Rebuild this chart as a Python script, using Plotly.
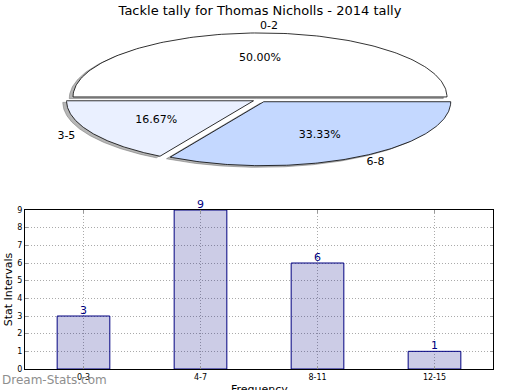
import numpy as np
import plotly.graph_objects as go

# ---- data ----
pie_labels = ["0-2", "3-5", "6-8"]
pie_values = [3, 1, 2]
pie_colors = ["#FFFFFF", "#EAF0FF", "#C4D8FF"]

bar_categories = ["0-3", "4-7", "8-11", "12-15"]
bar_values = [3, 9, 6, 1]

title_text = "Tackle tally for Thomas Nicholls - 2014 tally"
x_title = "Frequency"
y_title = "Stat Intervals"
watermark = "Dream-Stats.com"

W, H = 520, 390
FONT = "DejaVu Sans"

fig = go.Figure()

# ---- pie drawn as polygons on a stretched axis (ellipse) ----
explode = 0.04
total = float(sum(pie_values))
start = 0.0
slices = []
for lab, val, col in zip(pie_labels, pie_values, pie_colors):
    frac = val / total
    a0, a1 = start * 2 * np.pi, (start + frac) * 2 * np.pi
    mid = (a0 + a1) / 2
    cx, cy = explode * np.cos(mid), explode * np.sin(mid)
    t = np.linspace(a0, a1, 160)
    xs = np.concatenate([[cx], cx + np.cos(t), [cx]])
    ys = np.concatenate([[cy], cy + np.sin(t), [cy]])
    slices.append((lab, frac, col, mid, xs, ys))
    start += frac

# shadows
for lab, frac, col, mid, xs, ys in slices:
    fig.add_trace(go.Scatter(x=xs - 0.02, y=ys - 0.025, fill="toself", mode="lines",
                             line=dict(color="rgba(110,110,110,0.5)", width=1),
                             fillcolor="rgba(110,110,110,0.5)", hoverinfo="skip",
                             showlegend=False, xaxis="x2", yaxis="y2"))
for lab, frac, col, mid, xs, ys in slices:
    fig.add_trace(go.Scatter(x=xs, y=ys, fill="toself", mode="lines",
                             line=dict(color="black", width=0.8),
                             fillcolor=col, hoverinfo="skip",
                             showlegend=False, xaxis="x2", yaxis="y2"))
# labels
for lab, frac, col, mid, xs, ys in slices:
    r = 1.1 + explode
    lx, ly = r * np.cos(mid), r * np.sin(mid)
    pos = "middle right" if np.cos(mid) >= 0 else "middle left"
    fig.add_trace(go.Scatter(x=[lx], y=[ly], mode="text", text=[lab], textposition=pos,
                             textfont=dict(family=FONT, size=11, color="black"),
                             hoverinfo="skip", showlegend=False, xaxis="x2", yaxis="y2",
                             cliponaxis=False))
    r2 = 0.6 + explode
    fig.add_trace(go.Scatter(x=[r2 * np.cos(mid)], y=[r2 * np.sin(mid)], mode="text",
                             text=["%.2f%%" % (frac * 100)], textposition="middle center",
                             textfont=dict(family=FONT, size=11, color="black"),
                             hoverinfo="skip", showlegend=False, xaxis="x2", yaxis="y2",
                             cliponaxis=False))

# ---- bar chart ----
fig.add_trace(go.Bar(x=bar_categories, y=bar_values, width=0.45,
                     marker=dict(color="rgba(0,0,128,0.2)",
                                 line=dict(color="#000080", width=1)),
                     showlegend=False, hoverinfo="skip"))

bl, br, bt, bb = 25, 493, 210, 369

annotations = []
for c, v in zip(bar_categories, bar_values):
    annotations.append(dict(x=c, y=v, xref="x", yref="y", text=str(v), showarrow=False,
                            xanchor="center", yanchor="bottom", yshift=-3,
                            font=dict(family=FONT, size=11, color="#000080")))
annotations.append(dict(text=watermark, x=0, y=1 / H, xref="paper", yref="paper",
                        xanchor="left", yanchor="bottom", showarrow=False,
                        font=dict(family=FONT, size=12, color="#8E8E8E")))
annotations.append(dict(text=x_title, x=(bl + br) / 2 / W, y=(H - 381) / H,
                        xref="paper", yref="paper", xanchor="center", yanchor="top",
                        showarrow=False, font=dict(family=FONT, size=11, color="black")))

# pie axis geometry (pixels -> ranges)
pcx, pcy, rx, ry = 260.0, 99.5, 187.0, 64.0
pie_top_px, pie_bot_px = 0.0, 200.0
fig.update_layout(
    xaxis2=dict(domain=[0, 1], range=[-pcx / rx, (W - pcx) / rx], visible=False,
                anchor="y2", fixedrange=True, automargin=False),
    yaxis2=dict(domain=[(H - pie_bot_px) / H, (H - pie_top_px) / H],
                range=[-(pie_bot_px - pcy) / ry, (pcy - pie_top_px) / ry],
                visible=False, anchor="x2", fixedrange=True, automargin=False),
)

grid_dash = "1px,2px"
fig.update_layout(
    xaxis=dict(domain=[bl / W, br / W], range=[-0.5, 3.5], anchor="y", automargin=False,
               showgrid=True, gridcolor="#AAAAAA", griddash=grid_dash, gridwidth=1,
               showline=True, linecolor="black", linewidth=1, mirror="ticks",
               ticks="inside", ticklen=3, tickcolor="#999999",
               tickfont=dict(family=FONT, size=8, color="black"),
               zeroline=False, fixedrange=True),
    yaxis=dict(domain=[(H - bb) / H, (H - bt) / H], range=[0, 9], anchor="x", automargin=False,
               dtick=1, showgrid=True, gridcolor="#AAAAAA", griddash=grid_dash, gridwidth=1,
               showline=True, linecolor="black", linewidth=1, mirror="ticks",
               ticks="inside", ticklen=3, tickcolor="#999999",
               tickfont=dict(family=FONT, size=8, color="black"),
               title=dict(text=y_title, font=dict(family=FONT, size=11, color="black"),
                          standoff=2),
               zeroline=False, fixedrange=True),
)

fig.update_layout(
    width=W, height=H, margin=dict(l=0, r=0, t=0, b=0, autoexpand=False),
    paper_bgcolor="white", plot_bgcolor="rgba(0,0,0,0)",
    title=dict(text=title_text, x=0.5, xanchor="center", y=1 - 10 / H, yanchor="middle",
               font=dict(family=FONT, size=13, color="black"), automargin=False),
    annotations=annotations,
)

fig.write_html("out.html", config={"displayModeBar": False},
               post_script="document.body.style.margin='0';document.body.style.padding='0';")
